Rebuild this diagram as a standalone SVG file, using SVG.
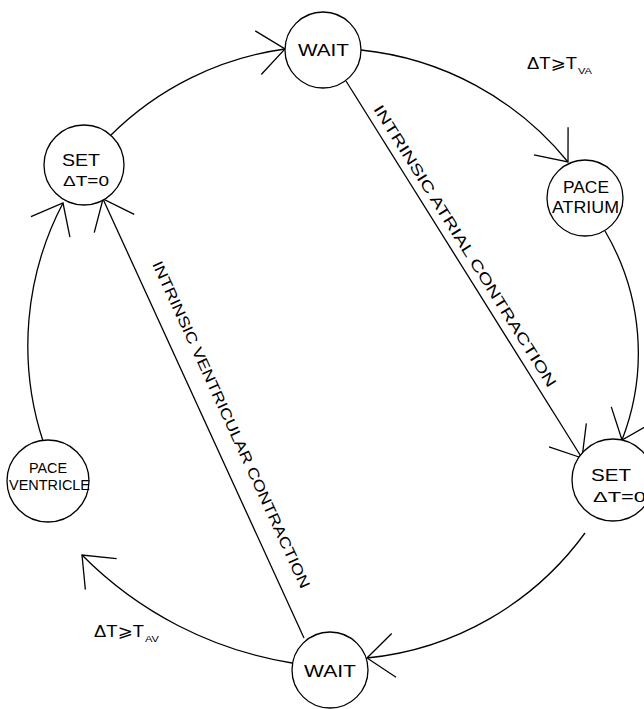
<svg xmlns="http://www.w3.org/2000/svg" width="644" height="709" viewBox="0 0 644 709">
<defs>
<marker id="arr" markerUnits="userSpaceOnUse" markerWidth="80" markerHeight="80" refX="0" refY="0" orient="auto" overflow="visible" viewBox="-40 -40 80 80">
<path d="M-27,-22 L0,0 L-27,22" fill="none" stroke="#000" stroke-width="1.3"/>
</marker>
</defs>
<style>
.node circle{fill:#fff;stroke:#000;stroke-width:1.3}
.edge{fill:none;stroke:#000;stroke-width:1.3;marker-end:url(#arr)}
text{font-family:"Liberation Sans","DejaVu Sans",sans-serif;fill:#000}
.big{font-size:17px}
.mid{font-size:16px}
.sm{font-size:14px}
.lbl{font-size:15px}
</style>
<rect width="644" height="709" fill="#fff"/>
<g id="connectors">
<path class="edge" d="M111,135 A307,307 0 0 1 285,49"/>
<path class="edge" d="M361,50 A307,307 0 0 1 568,162"/>
<path class="edge" d="M605,231 A240,240 0 0 1 622,440"/>
<path class="edge" d="M585,533 A307,307 0 0 1 367,658"/>
<path class="edge" d="M292,663 A380,380 0 0 1 82,555"/>
<path class="edge" d="M43,441 A307,307 0 0 1 63,203"/>
<path class="edge" d="M346,81 L582,458"/>
<path class="edge" d="M304,638 L103,199"/>
<text class="lbl" transform="translate(373,109) rotate(57.9)" textLength="330" lengthAdjust="spacingAndGlyphs">INTRINSIC  ATRIAL  CONTRACTION</text>
<text class="lbl" transform="translate(152,264) rotate(65.4)" textLength="358" lengthAdjust="spacingAndGlyphs">INTRINSIC  VENTRICULAR  CONTRACTION</text>
<text class="big" x="527" y="69" textLength="50" lengthAdjust="spacingAndGlyphs">ΔT⩾T</text>
<text style="font-size:9px" x="578" y="74" textLength="14" lengthAdjust="spacingAndGlyphs">VA</text>
<text class="big" x="94" y="637" textLength="50" lengthAdjust="spacingAndGlyphs">ΔT⩾T</text>
<text style="font-size:9px" x="145" y="642" textLength="14" lengthAdjust="spacingAndGlyphs">AV</text>
</g>
<g id="wait_top" class="node">
<circle cx="323" cy="50" r="38"/>
<text class="big" x="298" y="56" textLength="51" lengthAdjust="spacingAndGlyphs">WAIT</text>
</g>
<g id="set_left" class="node">
<circle cx="84" cy="165" r="40"/>
<text class="big" x="62" y="166" textLength="38" lengthAdjust="spacingAndGlyphs">SET</text>
<text class="sm" x="63" y="186" textLength="46" lengthAdjust="spacingAndGlyphs">ΔT=0</text>
</g>
<g id="pace_atrium" class="node">
<circle cx="585" cy="198" r="38"/>
<text class="mid" x="563" y="193" textLength="46" lengthAdjust="spacingAndGlyphs">PACE</text>
<text class="mid" x="552" y="213" textLength="67" lengthAdjust="spacingAndGlyphs">ATRIUM</text>
</g>
<g id="set_right" class="node">
<circle cx="613" cy="480" r="41"/>
<text class="big" x="591" y="481" textLength="40" lengthAdjust="spacingAndGlyphs">SET</text>
<text class="sm" x="593" y="502" textLength="53" lengthAdjust="spacingAndGlyphs">ΔT=0</text>
</g>
<g id="pace_ventricle" class="node">
<circle cx="48" cy="481" r="41"/>
<text class="sm" x="29" y="473" textLength="38" lengthAdjust="spacingAndGlyphs">PACE</text>
<text class="sm" x="9" y="490" textLength="81" lengthAdjust="spacingAndGlyphs">VENTRICLE</text>
</g>
<g id="wait_bottom" class="node">
<circle cx="330" cy="670" r="38"/>
<text class="big" x="304" y="677" textLength="52" lengthAdjust="spacingAndGlyphs">WAIT</text>
</g>
</svg>
